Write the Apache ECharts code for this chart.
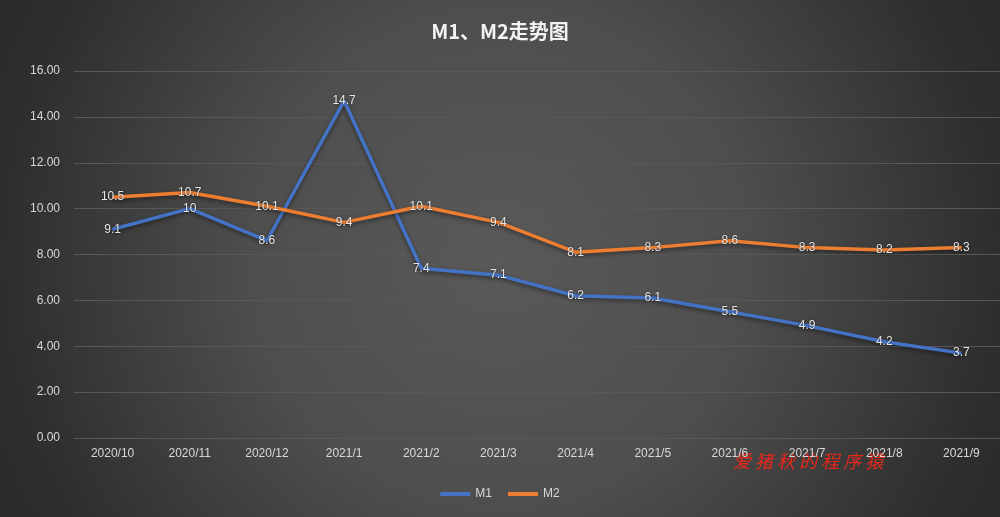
<!DOCTYPE html>
<html>
<head>
<meta charset="utf-8">
<script src="https://cdn.jsdelivr.net/npm/echarts@6/dist/echarts.min.js"></script>
<style>
  html, body { margin: 0; padding: 0; background: #2a2a2a; }
  #chart { width: 1000px; height: 517px; }
</style>
</head>
<body>
<div id="chart"></div>
<script>
const months = ['2020/10', '2020/11', '2020/12', '2021/1', '2021/2', '2021/3',
  '2021/4', '2021/5', '2021/6', '2021/7', '2021/8', '2021/9']
const m1 = [9.1, 10, 8.6, 14.7, 7.4, 7.1, 6.2, 6.1, 5.5, 4.9, 4.2, 3.7]
const m2 = [10.5, 10.7, 10.1, 9.4, 10.1, 9.4, 8.1, 8.3, 8.6, 8.3, 8.2, 8.3]

const textColor = '#d9d9d9'
const chart = echarts.init(document.getElementById('chart'))

function lineSeries(name, data, color) {
  return {
    name: name,
    type: 'line',
    data: data,
    symbol: 'circle',
    symbolSize: 1,
    showSymbol: true,
    lineStyle: {
      color: color,
      width: 3.5,
      shadowColor: 'rgba(0,0,0,0.45)',
      shadowBlur: 4,
      shadowOffsetY: 2
    },
    itemStyle: { color: color },
    label: {
      show: true,
      position: 'inside',
      color: '#e6e6e6',
      fontSize: 12,
      fontFamily: 'Liberation Sans, Arial, sans-serif',
      textShadowColor: 'rgba(0,0,0,0.6)',
      textShadowBlur: 2
    },
    emphasis: { disabled: true }
  }
}

chart.setOption({
  backgroundColor: {
    type: 'radial',
    x: 0.5, y: 0.5, r: 1.2,
    colorStops: [
      { offset: 0, color: '#595959' },
      { offset: 0.4, color: '#4e4e4e' },
      { offset: 0.8, color: '#2e2e2e' },
      { offset: 1, color: '#262626' }
    ]
  },
  title: {
    text: 'M1、M2走势图',
    left: 'center',
    top: 16,
    textStyle: {
      color: '#f2f2f2',
      fontSize: 20,
      fontWeight: 'bold',
      fontFamily: 'Noto Sans CJK SC, sans-serif'
    }
  },
  legend: {
    bottom: 12,
    left: 'center',
    itemWidth: 30,
    itemHeight: 4,
    itemGap: 16,
    icon: 'rect',
    textStyle: { color: textColor, fontSize: 12 },
    data: ['M1', 'M2']
  },
  grid: { left: 74, top: 71, width: 932, height: 367, containLabel: false },
  xAxis: {
    type: 'category',
    data: months,
    boundaryGap: true,
    axisLine: { lineStyle: { color: '#585858' } },
    axisTick: { show: false },
    axisLabel: { color: textColor, fontSize: 12, margin: 10 }
  },
  yAxis: {
    type: 'value',
    min: 0,
    max: 16,
    interval: 2,
    axisLine: { show: false },
    axisTick: { show: false },
    axisLabel: {
      color: textColor,
      fontSize: 12,
      margin: 14,
      formatter: v => v.toFixed(2)
    },
    splitLine: { lineStyle: { color: '#585858', width: 1 } }
  },
  graphic: [{
    type: 'text',
    left: 733,
    top: 452,
    style: {
      text: '爱 猪 秋 的 程 序 猿',
      fill: '#e8281a',
      font: 'italic 18px "Noto Sans CJK SC", serif'
    }
  }],
  series: [
    lineSeries('M1', m1, '#4472c4'),
    lineSeries('M2', m2, '#ed7d31')
  ]
})
</script>
</body>
</html>
